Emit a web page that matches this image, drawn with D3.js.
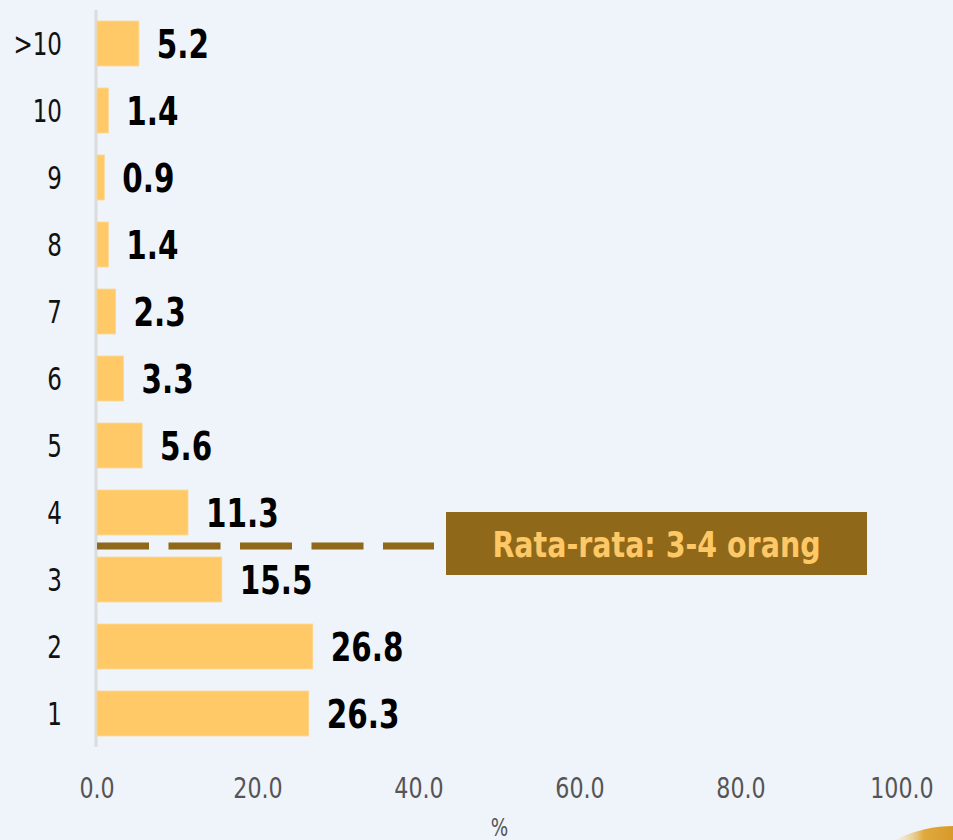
<!DOCTYPE html>
<html>
<head>
<meta charset="utf-8">
<script src="https://cdn.jsdelivr.net/npm/d3@7"></script>
<style>
  body { margin: 0; background: #eff3fa; }
  svg { display: block; }
  text { font-family: "DejaVu Sans Condensed", "Liberation Sans Narrow", "Roboto", sans-serif; font-stretch: condensed; }
</style>
</head>
<body>
<script>
const width = 953, height = 840;

// data
const categories = ['>10', '10', '9', '8', '7', '6', '5', '4', '3', '2', '1'];
const values = [5.2, 1.4, 0.9, 1.4, 2.3, 3.3, 5.6, 11.3, 15.5, 26.8, 26.3];
const xTicks = [0, 20, 40, 60, 80, 100];
const avgLabel = 'Rata-rata: 3-4 orang';
const avgBetween = ['4', '3'];
const xTitle = '%';

const data = categories.map((c, i) => ({ cat: c, val: values[i] }));

// narrow font look
const squeeze = (px, py, k) => `translate(${px},${py}) scale(${k},1)`;

const svg = d3.select('body').append('svg')
    .attr('width', width)
    .attr('height', height);

svg.append('rect').attr('width', width).attr('height', height).attr('fill', '#eff3fa');

const x = d3.scaleLinear().domain([0, 100]).range([97, 902]);
const y = d3.scaleBand().domain(categories).range([10, 747])
    .paddingInner(0.33).paddingOuter(0.165);

// y axis line
svg.append('line')
    .attr('x1', 96).attr('x2', 96)
    .attr('y1', y.range()[0]).attr('y2', y.range()[1])
    .attr('stroke', '#dcdcdc')
    .attr('stroke-width', 3);

// bars
svg.append('g').selectAll('rect')
    .data(data)
    .enter().append('rect')
    .attr('x', x(0))
    .attr('y', d => y(d.cat))
    .attr('width', d => x(d.val) - x(0))
    .attr('height', y.bandwidth())
    .attr('fill', '#fec966')
    .attr('stroke', '#fcd68a')
    .attr('stroke-width', 0.8);

// value labels
svg.append('g').selectAll('text')
    .data(data)
    .enter().append('text')
    .attr('transform', d => squeeze(x(d.val) + 18, y(d.cat) + y.bandwidth() / 2, 0.84))
    .attr('dy', '0.36em')
    .attr('font-size', 39)
    .attr('font-weight', 700)
    .attr('fill', '#000')
    .text(d => d.val.toFixed(1));

// category labels
svg.append('g').selectAll('text')
    .data(categories)
    .enter().append('text')
    .attr('transform', d => squeeze(62, y(d) + y.bandwidth() / 2, 0.8))
    .attr('dy', '0.36em')
    .attr('text-anchor', 'end')
    .attr('font-size', 32)
    .attr('fill', '#111')
    .text(d => d);

// x tick labels
svg.append('g').selectAll('text')
    .data(xTicks)
    .enter().append('text')
    .attr('transform', d => squeeze(x(d), 798, 0.85))
    .attr('text-anchor', 'middle')
    .attr('font-size', 29)
    .attr('fill', '#555')
    .text(d => d.toFixed(1));

svg.append('text')
    .attr('transform', squeeze((x(0) + x(100)) / 2, 836, 0.85))
    .attr('text-anchor', 'middle')
    .attr('font-size', 24)
    .attr('fill', '#555')
    .text(xTitle);

// average line and annotation
const avgY = (y(avgBetween[0]) + y.bandwidth() + y(avgBetween[1])) / 2;
svg.append('line')
    .attr('x1', x(0)).attr('x2', 434)
    .attr('y1', avgY).attr('y2', avgY)
    .attr('stroke', '#8f6819')
    .attr('stroke-width', 7)
    .attr('stroke-dasharray', '52 19.5');

svg.append('rect')
    .attr('x', 446).attr('y', 512)
    .attr('width', 421).attr('height', 63)
    .attr('fill', '#8f6819');

svg.append('text')
    .attr('transform', squeeze(656.5, 557, 0.88))
    .attr('text-anchor', 'middle')
    .attr('font-size', 36)
    .attr('font-weight', 700)
    .attr('fill', '#fdc865')
    .text(avgLabel);

// corner decoration
const grad = svg.append('defs').append('linearGradient')
    .attr('id', 'corner').attr('x1', 0).attr('x2', 1).attr('y1', 0).attr('y2', 0);
grad.append('stop').attr('offset', 0).attr('stop-color', '#f5e6c4').attr('stop-opacity', 0.3);
grad.append('stop').attr('offset', 0.5).attr('stop-color', '#e0a93c');
grad.append('stop').attr('offset', 1).attr('stop-color', '#d89a2a');
svg.append('path')
    .attr('d', 'M895,840 C915,830 935,826 953,826 L953,840 Z')
    .attr('fill', 'url(#corner)');
</script>
</body>
</html>
